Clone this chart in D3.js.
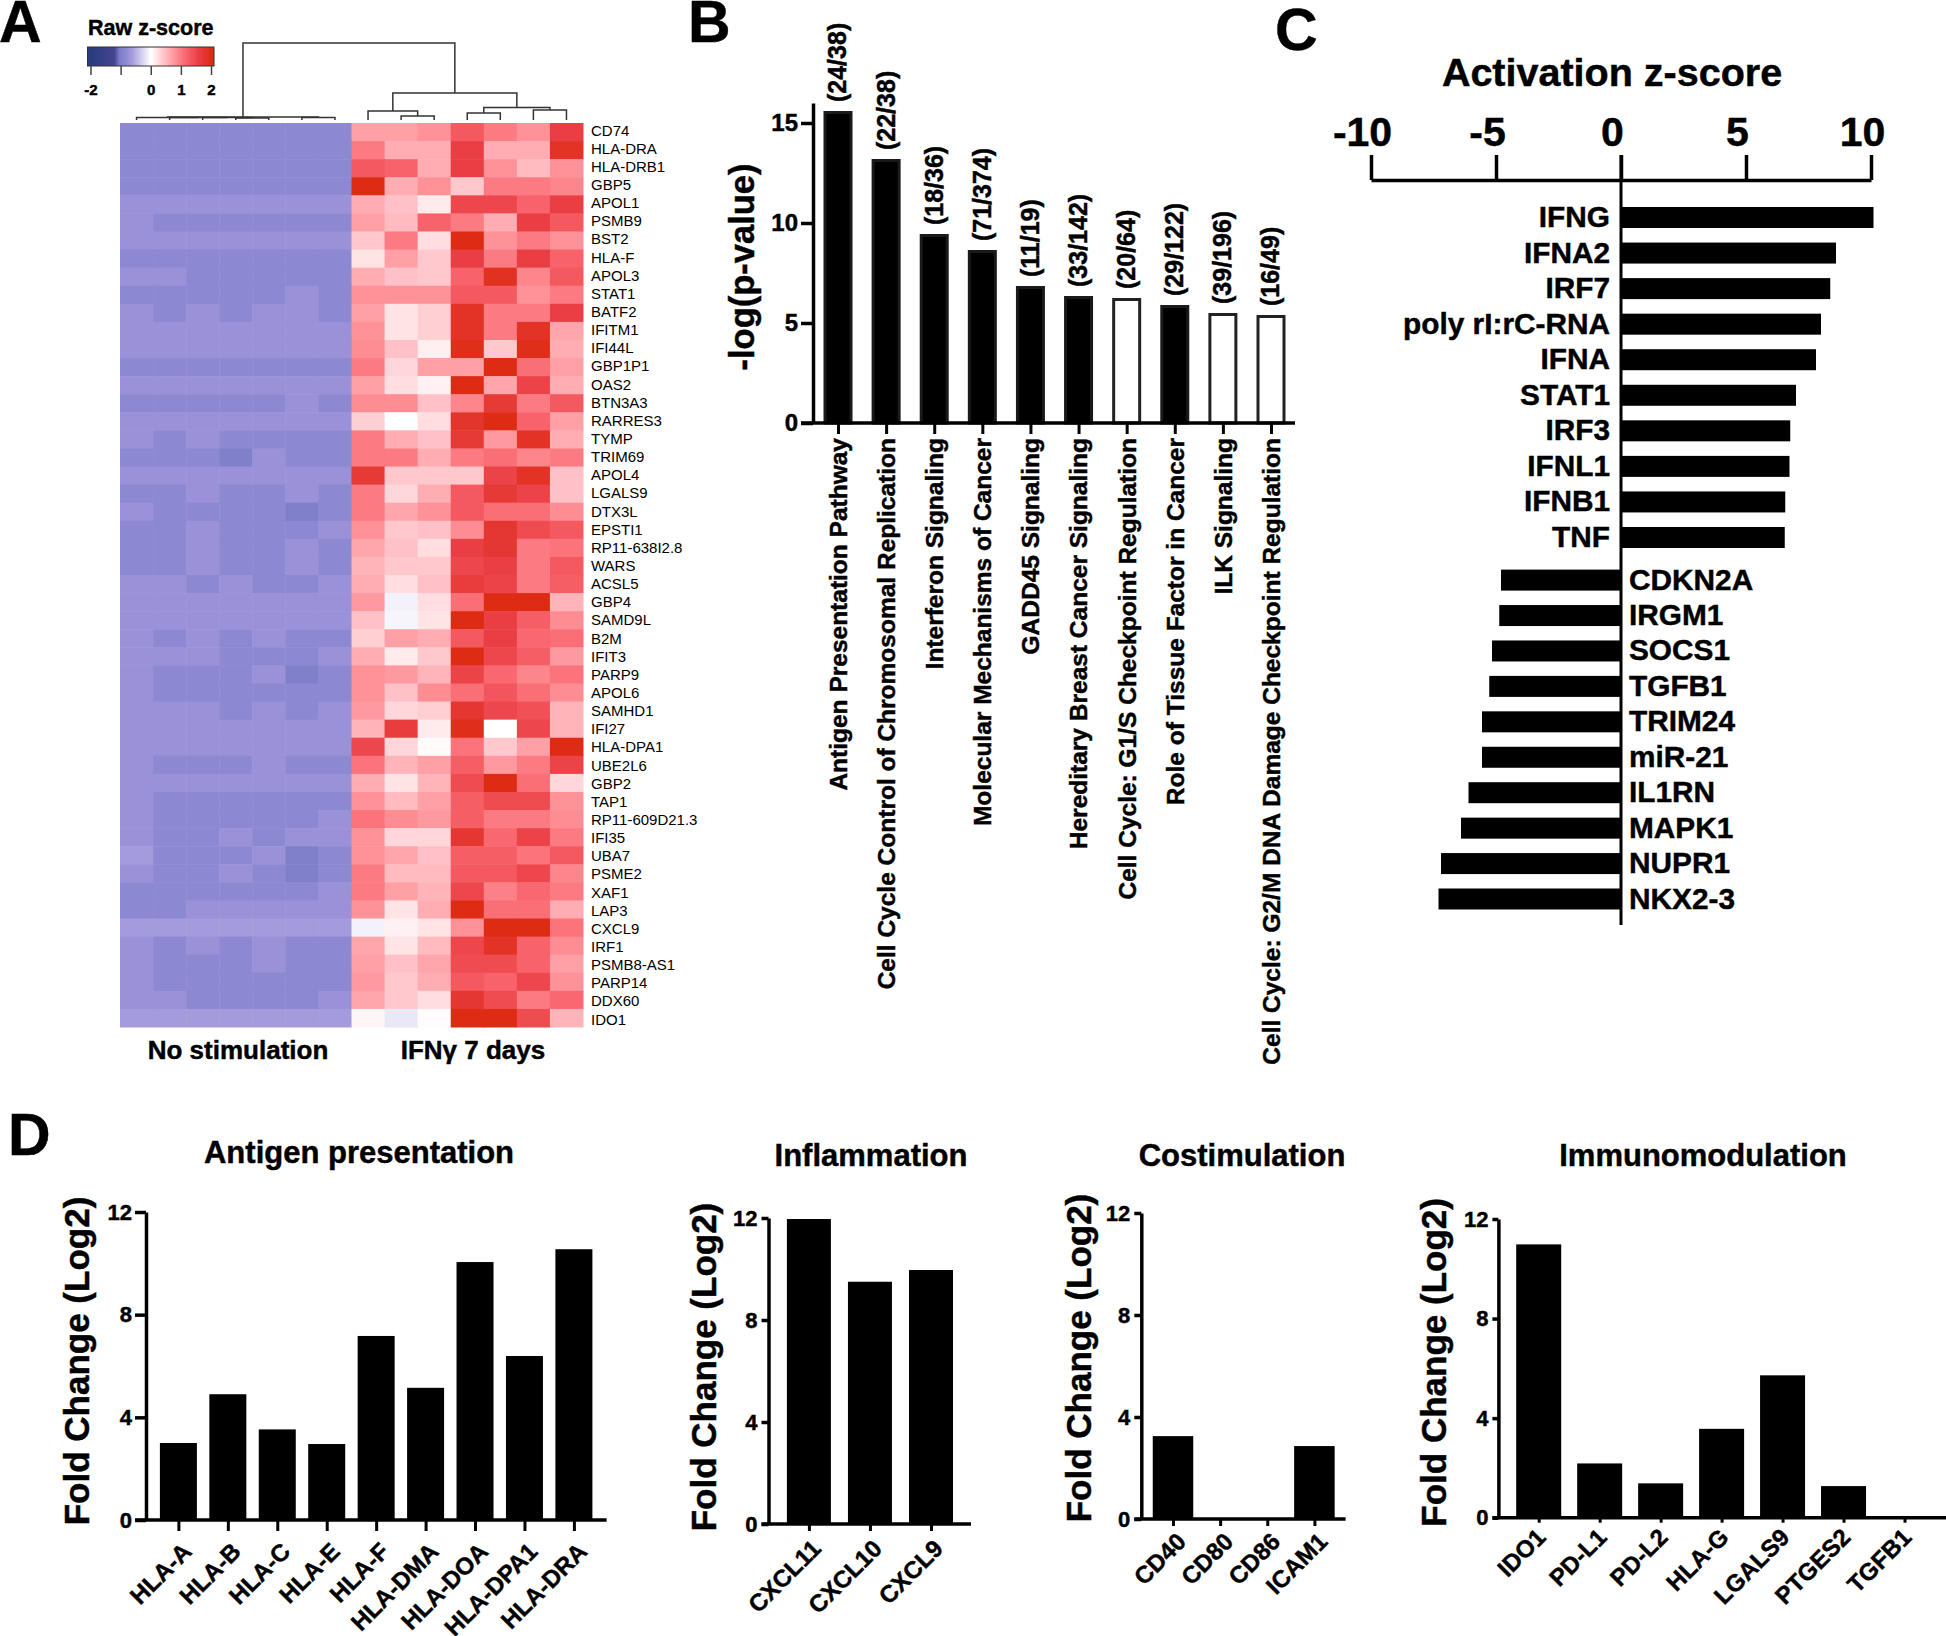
<!DOCTYPE html>
<html><head><meta charset="utf-8">
<script src="https://cdn.jsdelivr.net/npm/d3@7"></script>
<style>
html,body{margin:0;padding:0;background:#fff}
svg{display:block}
text{font-family:"Liberation Sans",Arial,sans-serif;fill:#000}
text[font-weight="700"]{stroke:#000;stroke-width:.45px}
</style></head><body>
<svg id="c" width="1946" height="1636"></svg>
<script>
// ---------- DATA ----------
const genes = ["CD74","HLA-DRA","HLA-DRB1","GBP5","APOL1","PSMB9","BST2","HLA-F","APOL3","STAT1","BATF2","IFITM1","IFI44L","GBP1P1","OAS2","BTN3A3","RARRES3","TYMP","TRIM69","APOL4","LGALS9","DTX3L","EPSTI1","RP11-638I2.8","WARS","ACSL5","GBP4","SAMD9L","B2M","IFIT3","PARP9","APOL6","SAMHD1","IFI27","HLA-DPA1","UBE2L6","GBP2","TAP1","RP11-609D21.3","IFI35","UBA7","PSME2","XAF1","LAP3","CXCL9","IRF1","PSMB8-AS1","PARP14","DDX60","IDO1"];
const L=-0.62,A=-0.72,B=-0.85,C=-1.0;
const heatNoStim = [
[B,B,B,B,B,B,B],[B,B,B,B,B,B,B],[B,B,B,B,B,B,B],[B,B,B,B,B,B,B],[A,A,A,A,A,A,A],
[A,B,B,B,B,B,B],[A,A,A,A,A,A,A],[B,B,B,B,B,B,B],[A,A,B,B,B,B,B],[B,B,B,B,B,A,B],
[A,B,A,B,A,A,B],[A,A,A,A,A,A,A],[A,A,A,A,A,A,A],[B,B,B,B,B,B,B],[A,A,A,A,A,A,A],
[B,B,B,B,B,A,B],[A,A,A,A,A,A,A],[A,B,A,B,B,B,B],[B,B,B,C,A,B,B],[A,A,A,A,A,A,A],
[B,B,A,B,B,A,B],[A,B,B,B,B,C,B],[B,B,A,B,B,B,A],[B,B,A,B,B,A,B],[B,B,A,B,B,A,B],
[A,A,B,A,B,B,A],[A,A,A,A,A,A,A],[A,A,A,A,A,A,A],[A,B,A,B,A,B,B],[A,A,A,B,B,B,A],
[A,B,B,B,A,C,B],[A,B,B,B,B,B,B],[A,A,A,B,A,B,A],[A,A,A,A,A,A,A],[A,A,A,A,A,A,A],
[A,B,B,B,A,B,B],[A,A,A,A,A,A,A],[A,B,B,B,B,B,B],[A,B,B,B,B,B,A],[A,B,B,A,B,A,A],
[L,B,B,B,A,C,B],[A,B,B,A,B,C,B],[B,B,B,B,B,B,A],[B,B,A,A,A,A,A],[L,L,L,L,L,L,L],
[A,B,A,B,A,B,B],[A,B,B,B,A,B,B],[A,B,B,B,B,B,B],[A,A,B,B,B,B,A],[L,L,L,L,L,L,L]];
const heatIFNg = [
[.7,.7,.8,1.3,1,.8,1.6],[1,.6,.6,1.6,.6,.6,1.85],[1.3,1.2,.6,1.6,.8,.5,.8],[2,.6,.8,.4,1,1,.9],[.6,.45,.15,1.5,1.5,1.2,1.6],
[.7,.5,1.2,1,.6,1.6,1.3],[.4,1,.25,2,.8,1,.8],[.2,.7,.4,1.6,1,1.6,1.2],[.6,.45,.4,1.2,1.9,.9,1.3],[.8,.8,.8,1.3,1.3,.8,1],
[.7,.2,.35,1.85,1,1,1.6],[.8,.2,.35,1.85,1,1.85,.65],[.85,.45,.12,1.95,.4,1.95,.6],[1,.3,.7,.7,2,1.1,.7],[.7,.25,.1,2,.65,1.55,.6],
[.85,.85,.45,.9,1.7,1,1.3],[.35,0,.25,1.8,2,1.2,.7],[1,.6,.45,1.7,.75,1.85,.6],[1,1,.6,1,1.1,.9,1],[1.7,.4,.4,.4,1.55,1.85,.45],
[1,.3,.6,1.3,1.7,1.55,.45],[1,.65,.8,1.3,1.1,1.1,.85],[.8,.4,.45,.85,1.75,1.45,1.3],[.65,.45,.25,1.6,1.75,1,1.05],[.55,.4,.4,1.5,1.6,1,1.3],
[.6,.25,.45,1.65,1.55,1,1.25],[.75,-.08,.25,1.1,2,2,.55],[.45,-.06,.2,2,1.6,1.25,.85],[.35,.7,.6,1.3,1.6,1.15,1.1],[.6,.15,.4,2,1.5,1.25,.75],
[.8,.75,.55,1.55,1.15,.9,1.05],[.8,.45,.85,1.1,1.35,1.1,.85],[.75,.3,.35,1.75,1.5,1.4,.55],[.55,1.65,.15,1.95,0,1.5,.55],[1.5,.3,.03,1.05,.4,.7,2],
[1.05,.55,.7,1.25,.75,1,1.55],[.6,.2,.55,1.45,2,1.1,.3],[.8,.5,.7,1.25,1.45,1.45,.8],[1.05,.85,.75,1.25,1,1,.85],[.8,.3,.3,1.75,1.15,1.55,1],
[.8,.65,.45,1.25,1.25,1.05,1.3],[1,.5,.5,1.3,1.3,1.5,.9],[1,.7,.55,1.5,.95,1.15,1],[.8,.2,.6,2,1.1,1.1,.6],[-.08,.1,.2,.8,2,2,1.05],
[.65,.2,.5,1.5,1.85,1.2,.85],[.7,.45,.65,1.45,1.45,1.2,.7],[.75,.4,.6,1.3,1.2,1.5,.8],[.65,.4,.25,1.75,1.45,1,1.15],[.07,-.14,.02,2,2,1.45,.55]];
const legendTicks = [-2,-1,0,1,2];
const legendLabels = ["-2","","0","1","2"];
// dendrogram: leaves are column indices, h = merge height
const treeLeft = {h:3,c:[{h:2.6,c:[0,{h:2.6,c:[1,{h:2.4,c:[2,{h:2,c:[3,4]}]}]}]},{h:2.6,c:[5,6]}]};
const treeRight = {h:27,c:[{h:9,c:[7,{h:4,c:[8,9]}]},{h:12.4,c:[{h:7,c:[10,11]},{h:10,c:[12,13]}]}]};
const treeRootH = 77;

const pathways = ["Antigen Presentation Pathway","Cell Cycle Control of Chromosomal Replication","Interferon Signaling","Molecular Mechanisms of Cancer","GADD45 Signaling","Hereditary Breast Cancer Signaling","Cell Cycle: G1/S Checkpoint Regulation","Role of Tissue Factor in Cancer","ILK Signaling","Cell Cycle: G2/M DNA Damage Checkpoint Regulation"];
const pathwayP = [15.6,13.2,9.45,8.65,6.85,6.35,6.25,5.9,5.5,5.4];
const pathwayFrac = ["(24/38)","(22/38)","(18/36)","(71/374)","(11/19)","(33/142)","(20/64)","(29/122)","(39/196)","(16/49)"];
const pathwayHollow = [false,false,false,false,false,false,true,false,true,true];
const pathwayTicks = [0,5,10,15];

const upNames = ["IFNG","IFNA2","IRF7","poly rI:rC-RNA","IFNA","STAT1","IRF3","IFNL1","IFNB1","TNF"];
const upZ = [10.1,8.6,8.37,8.0,7.8,7.0,6.77,6.74,6.57,6.55];
const downNames = ["CDKN2A","IRGM1","SOCS1","TGFB1","TRIM24","miR-21","IL1RN","MAPK1","NUPR1","NKX2-3"];
const downZ = [-4.8,-4.87,-5.16,-5.27,-5.56,-5.56,-6.1,-6.4,-7.2,-7.3];
const zTicks = [-10,-5,0,5,10];

const antigenNames = ["HLA-A","HLA-B","HLA-C","HLA-E","HLA-F","HLA-DMA","HLA-DOA","HLA-DPA1","HLA-DRA"];
const antigenFC = [3.0,4.9,3.53,2.96,7.17,5.15,10.05,6.39,10.55];
const inflamNames = ["CXCL11","CXCL10","CXCL9"];
const inflamFC = [11.96,9.5,9.96];
const costimNames = ["CD40","CD80","CD86","ICAM1"];
const costimFC = [3.25,0,0,2.86];
const immunoNames = ["IDO1","PD-L1","PD-L2","HLA-G","LGALS9","PTGES2","TGFB1"];
const immunoFC = [10.98,2.18,1.38,3.57,5.72,1.27,0];
const fcTicks = [0,4,8,12];

// ---------- DRAW ----------
const svg = d3.select("#c");
function txt(g,x,y,s,size,opt={}){
  const t=g.append("text").attr("x",x).attr("y",y).text(s).attr("font-size",size)
    .attr("text-anchor",opt.anchor||"start");
  if(opt.bold!==false) t.attr("font-weight",700);
  if(opt.rot!=null) t.attr("transform",`rotate(${opt.rot},${x},${y})`);
  return t;
}
function styleAxis(g,sw){
  g.selectAll("path,line").attr("stroke","#000").attr("stroke-width",sw).attr("fill","none");
  g.selectAll("text").attr("font-weight",700).attr("font-family",'"Liberation Sans",Arial,sans-serif').attr("fill","#000");
}
// panel letters
[["A",-1,42],["B",688,42],["C",1275,50],["D",8,1155]]
  .forEach(d=>txt(svg,d[1],d[2],d[0],59));

// ---- A heatmap ----
const color = d3.scaleLinear()
  .domain([-2,-1.2,-1.05,-1,-.85,-.72,-.62,0,.4,.8,1.2,1.6,2])
  .range(["#2a3b7e","#45458f","#7878c8","#7f7fca","#8c88d2","#9a91d8","#a49bdc","#ffffff","#ffc8cd","#ff9299","#f8626a","#e93e43","#de2c14"])
  .clamp(true);
const A_ = svg.append("g");
const cols = d3.range(14);
const xH = d3.scaleBand().domain(cols).range([120,583]);
const yH = d3.scaleBand().domain(genes).range([123,1027]);
genes.forEach((g,i)=>{
  heatNoStim[i].concat(heatIFNg[i]).forEach((v,j)=>{
    A_.append("rect").attr("x",xH(j)).attr("y",yH(g)).attr("width",xH.bandwidth()+.5).attr("height",yH.bandwidth()+.5)
      .attr("fill",color(v));
  });
});
const yLabel = d3.scalePoint().domain(genes).range([130.2,1019.3]);
const gy = A_.append("g").attr("transform","translate(583,0)").call(d3.axisRight(yLabel).tickSize(0).tickPadding(8));
gy.select(".domain").remove();
gy.selectAll("text").attr("font-size",15).attr("font-family",'"Liberation Sans",Arial,sans-serif').attr("fill","#111");

// dendrogram
const dy = d3.scaleLinear().domain([0,100]).range([120,20]);
const dgL = A_.append("g").attr("fill","none").attr("stroke","#333").attr("stroke-width",1.5);
function drawTree(n){
  if(typeof n==="number") return {x:xH(n)+xH.bandwidth()/2,h:0};
  const k=n.c.map(drawTree);
  dgL.append("path").attr("d",d3.line()([[k[0].x,dy(k[0].h)],[k[0].x,dy(n.h)],[k[1].x,dy(n.h)],[k[1].x,dy(k[1].h)]]));
  return {x:(k[0].x+k[1].x)/2,h:n.h};
}
const tl=drawTree(treeLeft), tr=drawTree(treeRight);
dgL.append("path").attr("d",d3.line()([[tl.x,dy(tl.h)],[tl.x,dy(treeRootH)],[tr.x,dy(treeRootH)],[tr.x,dy(tr.h)]]));

// colour key
const lx = d3.scaleLinear().domain([-2,2]).range([90.5,211]);
const grad=svg.append("defs").append("linearGradient").attr("id","key");
d3.range(-2.1,2.11,.05).forEach(v=>grad.append("stop").attr("offset",(v+2.1)/4.2).attr("stop-color",color(v)));
A_.append("rect").attr("x",lx(-2.1)).attr("y",47).attr("width",lx(2.1)-lx(-2.1)).attr("height",19).attr("fill","url(#key)").attr("stroke","#333").attr("stroke-width",1);
const gl=A_.append("g").attr("transform","translate(0,66)").call(d3.axisBottom(lx).tickValues(legendTicks).tickSize(9).tickPadding(9).tickFormat((d,i)=>legendLabels[i]));
gl.select(".domain").remove();
gl.selectAll("line").attr("stroke","#444").attr("stroke-width",1.5);
gl.selectAll("text").attr("font-size",15).attr("font-weight",700).attr("fill","#333").attr("font-family",'"Liberation Sans",Arial,sans-serif');
txt(A_,88,35,"Raw z-score",21.5);
txt(A_,238,1059,"No stimulation",26,{anchor:"middle"});
txt(A_,473,1059,"IFNγ 7 days",26,{anchor:"middle"});

// ---- B pathways ----
const B_=svg.append("g");
const xB=d3.scalePoint().domain(pathways).range([838,1271]);
const yB=d3.scaleLinear().domain([0,16]).range([423,103]);
pathways.forEach((p,i)=>{
  const w=26;
  B_.append("rect").attr("x",xB(p)-w/2).attr("y",yB(pathwayP[i])+1.5).attr("width",w).attr("height",yB(0)-yB(pathwayP[i])-1.5)
    .attr("fill",pathwayHollow[i]?"#fff":"#000").attr("stroke",pathwayHollow[i]?"#222":"#1a1a1a").attr("stroke-width",3);
  txt(B_,xB(p)+8.4,yB(pathwayP[i])-9,pathwayFrac[i],25,{rot:-90});
});
const axYB=B_.append("g").attr("transform","translate(813,0)").call(d3.axisLeft(yB).tickValues(pathwayTicks).tickSize(12).tickSizeOuter(0).tickPadding(3));
styleAxis(axYB,3.5); axYB.selectAll("text").attr("font-size",24);
const axXB=B_.append("g").attr("transform","translate(0,423)").call(d3.axisBottom(xB).tickSize(11));
axXB.select(".domain").remove();
styleAxis(axXB,3);
axXB.selectAll("text").attr("font-size",24.5).attr("text-anchor","end").attr("dy",0)
  .attr("transform","rotate(-90)").attr("x",-15).attr("y",8.4);
B_.append("line").attr("x1",801).attr("x2",1295).attr("y1",423).attr("y2",423).attr("stroke","#000").attr("stroke-width",3.5);
txt(B_,754,267,"-log(p-value)",34.5,{anchor:"middle",rot:-90});

// ---- C z-score ----
const C_=svg.append("g");
const xC=d3.scaleLinear().domain([-10,10]).range([1371,1871]);
const yUp=d3.scalePoint().domain(upNames).range([217,537]);
const yDn=d3.scalePoint().domain(downNames).range([579.6,898.5]);
upNames.forEach((n,i)=>{
  C_.append("rect").attr("x",xC(0)).attr("y",yUp(n)-10).attr("width",xC(upZ[i])-xC(0)).attr("height",21);
  txt(C_,1610,yUp(n)+10,n,29.8,{anchor:"end"});
});
downNames.forEach((n,i)=>{
  C_.append("rect").attr("x",xC(downZ[i])).attr("y",yDn(n)-10).attr("width",xC(0)-xC(downZ[i])).attr("height",21);
  txt(C_,1629,yDn(n)+10,n,29.8);
});
const axC=C_.append("g").attr("transform","translate(0,180)").call(d3.axisTop(xC).tickValues(zTicks).tickSize(25).tickSizeOuter(0).tickPadding(9).tickFormat(d=>String(d)));
styleAxis(axC,3.5); axC.selectAll("text").attr("font-size",41).attr("x",-9);
C_.append("line").attr("x1",xC(0)).attr("x2",xC(0)).attr("y1",155).attr("y2",925).attr("stroke","#000").attr("stroke-width",3);
txt(C_,1612,86,"Activation z-score",39.5,{anchor:"middle"});

// ---- D fold change ----
const panels=[
 {names:antigenNames,vals:antigenFC,title:"Antigen presentation",tx:359,ty:1163,ax:146,top:1212,bot:1520,first:178.4,last:573.9,end:606.6,bw:37,lx:89,tickL:11,tickB:11,ldx:14,ldy:27,pad:3,cy:-5},
 {names:inflamNames,vals:inflamFC,title:"Inflammation",tx:871,ty:1166,ax:768.5,top:1218,bot:1524,first:808.9,last:931,end:971,bw:44,lx:716,tickL:7,tickB:7,ldx:13,ldy:24,pad:4,cy:-4},
 {names:costimNames,vals:costimFC,title:"Costimulation",tx:1242,ty:1166,ax:1141.3,top:1213,bot:1519,first:1173,last:1314.4,end:1345.6,bw:40.5,lx:1091,tickL:7,tickB:7,ldx:14,ldy:22,pad:4,cy:-8},
 {names:immunoNames,vals:immunoFC,title:"Immunomodulation",tx:1703,ty:1166,ax:1498.4,top:1219,bot:1517.7,first:1538.7,last:1904.5,end:1946,bw:45,lx:1446,tickL:6,tickB:5,ldx:8,ldy:21,pad:4,cy:-6}
];
panels.forEach(p=>{
  const g=svg.append("g");
  const x=d3.scalePoint().domain(p.names).range([p.first,p.last]);
  const y=d3.scaleLinear().domain([0,12]).range([p.bot,p.top]);
  p.names.forEach((n,i)=>{
    g.append("rect").attr("x",x(n)-p.bw/2).attr("width",p.bw).attr("y",y(p.vals[i])).attr("height",y(0)-y(p.vals[i]));
  });
  const ay=g.append("g").attr("transform",`translate(${p.ax},0)`).call(d3.axisLeft(y).tickValues(fcTicks).tickSize(p.tickL).tickSizeOuter(0).tickPadding(p.pad));
  styleAxis(ay,3.5); ay.selectAll("text").attr("font-size",22);
  const ax=g.append("g").attr("transform",`translate(0,${p.bot})`).call(d3.axisBottom(x).tickSize(p.tickB));
  ax.select(".domain").remove(); styleAxis(ax,3);
  ax.selectAll("text").attr("font-size",24).attr("text-anchor","end").attr("dy",0)
    .attr("x",0).attr("y",0).attr("transform",`translate(${p.ldx},${p.ldy+p.tickB-5}) rotate(-45)`);
  g.append("line").attr("x1",p.ax-p.tickL).attr("x2",p.end).attr("y1",p.bot).attr("y2",p.bot).attr("stroke","#000").attr("stroke-width",3.5);
  txt(g,p.lx,(p.top+p.bot)/2+p.cy,"Fold Change (Log2)",35,{anchor:"middle",rot:-90});
  txt(g,p.tx,p.ty,p.title,31,{anchor:"middle"});
});
</script>
</body></html>
